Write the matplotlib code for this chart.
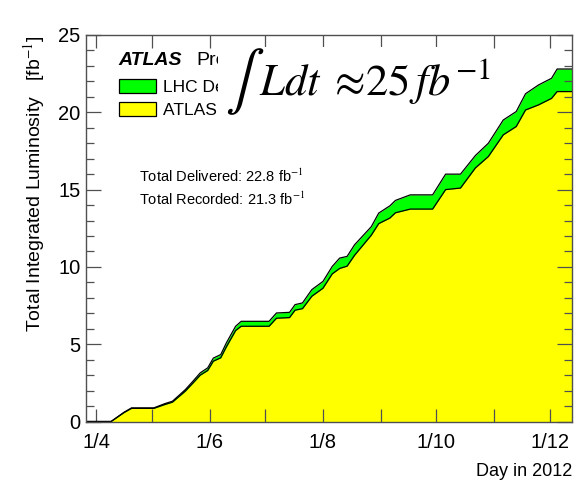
import numpy as np
import matplotlib
matplotlib.use('Agg')
import matplotlib.pyplot as plt
import matplotlib.dates as mdates
from matplotlib.patches import Patch, Rectangle
from matplotlib.ticker import MultipleLocator, FuncFormatter

plt.rcParams['font.family'] = ['Liberation Sans', 'DejaVu Sans']
plt.rcParams['mathtext.fontset'] = 'stix'

# cumulative luminosity (fb^-1)
days = np.array(['2012-03-27', '2012-04-09', '2012-04-16', '2012-04-20', '2012-05-02',
                 '2012-05-08', '2012-05-12', '2012-05-16', '2012-05-19', '2012-05-23',
                 '2012-05-27', '2012-05-31', '2012-06-03', '2012-06-07', '2012-06-10',
                 '2012-06-15', '2012-06-18', '2012-07-03', '2012-07-07', '2012-07-14',
                 '2012-07-17', '2012-07-21', '2012-07-26', '2012-08-01', '2012-08-06',
                 '2012-08-10', '2012-08-14', '2012-08-18', '2012-08-27', '2012-08-31',
                 '2012-09-06', '2012-09-09', '2012-09-17', '2012-09-29', '2012-10-06',
                 '2012-10-14', '2012-10-22', '2012-10-29', '2012-11-06', '2012-11-13',
                 '2012-11-18', '2012-11-25', '2012-12-02', '2012-12-05', '2012-12-13'],
                dtype='datetime64[D]')
delivered = [0, 0, 0.6, 0.88, 0.88,
             1.16, 1.31, 1.74, 2.07, 2.6,
             3.15, 3.47, 4.1, 4.33, 5.08,
             6.16, 6.48, 6.48, 7.02, 7.06,
             7.56, 7.67, 8.53, 9.06, 10.03,
             10.57, 10.68, 11.43, 12.6, 13.48,
             13.95, 14.3, 14.66, 14.66, 16.0,
             16.0, 17.2, 18.0, 19.5, 20.05,
             21.2, 21.77, 22.2, 22.8, 22.8]
recorded = [0, 0, 0.58, 0.85, 0.85,
            1.1, 1.25, 1.66, 1.97, 2.48,
            3.0, 3.3, 3.9, 4.12, 4.82,
            5.88, 6.16, 6.16, 6.68, 6.72,
            7.2, 7.3, 8.1, 8.62, 9.55,
            9.9, 10.05, 10.75, 12.05, 12.8,
            13.16, 13.5, 13.74, 13.74, 15.0,
            15.1, 16.4, 17.14, 18.54, 19.08,
            20.15, 20.48, 20.9, 21.34, 21.34]

green = '#00ff00'
yellow = '#ffff00'

fig = plt.figure(figsize=(5.74, 4.88), dpi=100)
ax = fig.add_axes([86/574, 1 - 421.5/488, (572 - 86)/574, (421.5 - 35)/488])

ax.fill_between(days, 0, delivered, color=green, lw=0)
ax.plot(days, delivered, color='black', lw=0.9)
ax.fill_between(days, 0, recorded, color=yellow, lw=0)
ax.plot(days, recorded, color='black', lw=0.9)

ax.set_xlim(np.datetime64('2012-03-26T12:00'), np.datetime64('2012-12-13'))
ax.set_ylim(0, 25)

ax.xaxis.set_major_locator(mdates.MonthLocator(bymonth=[4, 6, 8, 10, 12]))
ax.xaxis.set_minor_locator(mdates.MonthLocator(bymonth=[5, 7, 9, 11]))
ax.xaxis.set_major_formatter(FuncFormatter(lambda v, p: '1/%d' % mdates.num2date(v).month))
ax.yaxis.set_major_locator(MultipleLocator(5))
ax.yaxis.set_minor_locator(MultipleLocator(1))

spine_col = '#505050'
for s in ax.spines.values():
    s.set_color(spine_col)
    s.set_linewidth(1.0)
ax.tick_params(axis='x', which='both', direction='in', top=True, length=9.5, width=0.9,
               color=spine_col, labelsize=14.5, pad=8)
ax.tick_params(axis='y', which='major', direction='in', right=True, length=11, width=0.9,
               color=spine_col, labelsize=14.5, pad=4)
ax.tick_params(axis='y', which='minor', direction='in', right=True, length=6, width=0.9,
               color=spine_col)

ax.set_ylabel('Total Integrated Luminosity   [fb$^{-1}$]', loc='top', fontsize=14, labelpad=8)
ax.set_xlabel('Day in 2012', loc='right', fontsize=13, labelpad=8)

ax.text(0.066, 0.934, 'ATLAS', transform=ax.transAxes, fontsize=14, fontweight='bold',
        fontstyle='italic', va='center', ha='left')
ax.text(0.228, 0.934, 'Preliminary', transform=ax.transAxes, fontsize=14,
        va='center', ha='left')

handles = [Patch(facecolor=green, edgecolor='black', lw=0.9),
           Patch(facecolor=yellow, edgecolor='black', lw=0.9)]
ax.legend(handles, ['LHC Delivered', 'ATLAS Recorded'], loc='upper left',
          bbox_to_anchor=(0.068, 0.887), frameon=False, fontsize=12.5,
          handlelength=2.1, handleheight=0.85, handletextpad=0.45,
          labelspacing=0.45, borderpad=0, borderaxespad=0)

# white pave behind the big luminosity label, hides the end of the legend texts
ax.add_patch(Rectangle((0.272, 0.775), 0.55, 0.195, transform=ax.transAxes,
                       facecolor='white', edgecolor='none', zorder=9))
ax.text(0.285, 0.878, r'$\int$', transform=ax.transAxes,
        fontsize=42, va='center', ha='left', zorder=10)
ax.text(0.355, 0.88, r'$Ldt\;\approx\!25\,fb^{-1}$', transform=ax.transAxes,
        fontsize=32, va='center', ha='left', zorder=10)

ax.text(0.11, 0.635, 'Total Delivered: 22.8 fb$^{-1}$', transform=ax.transAxes,
        fontsize=10.5, va='center', ha='left')
ax.text(0.11, 0.575, 'Total Recorded: 21.3 fb$^{-1}$', transform=ax.transAxes,
        fontsize=10.5, va='center', ha='left')

fig.savefig('out.png', dpi=100)
